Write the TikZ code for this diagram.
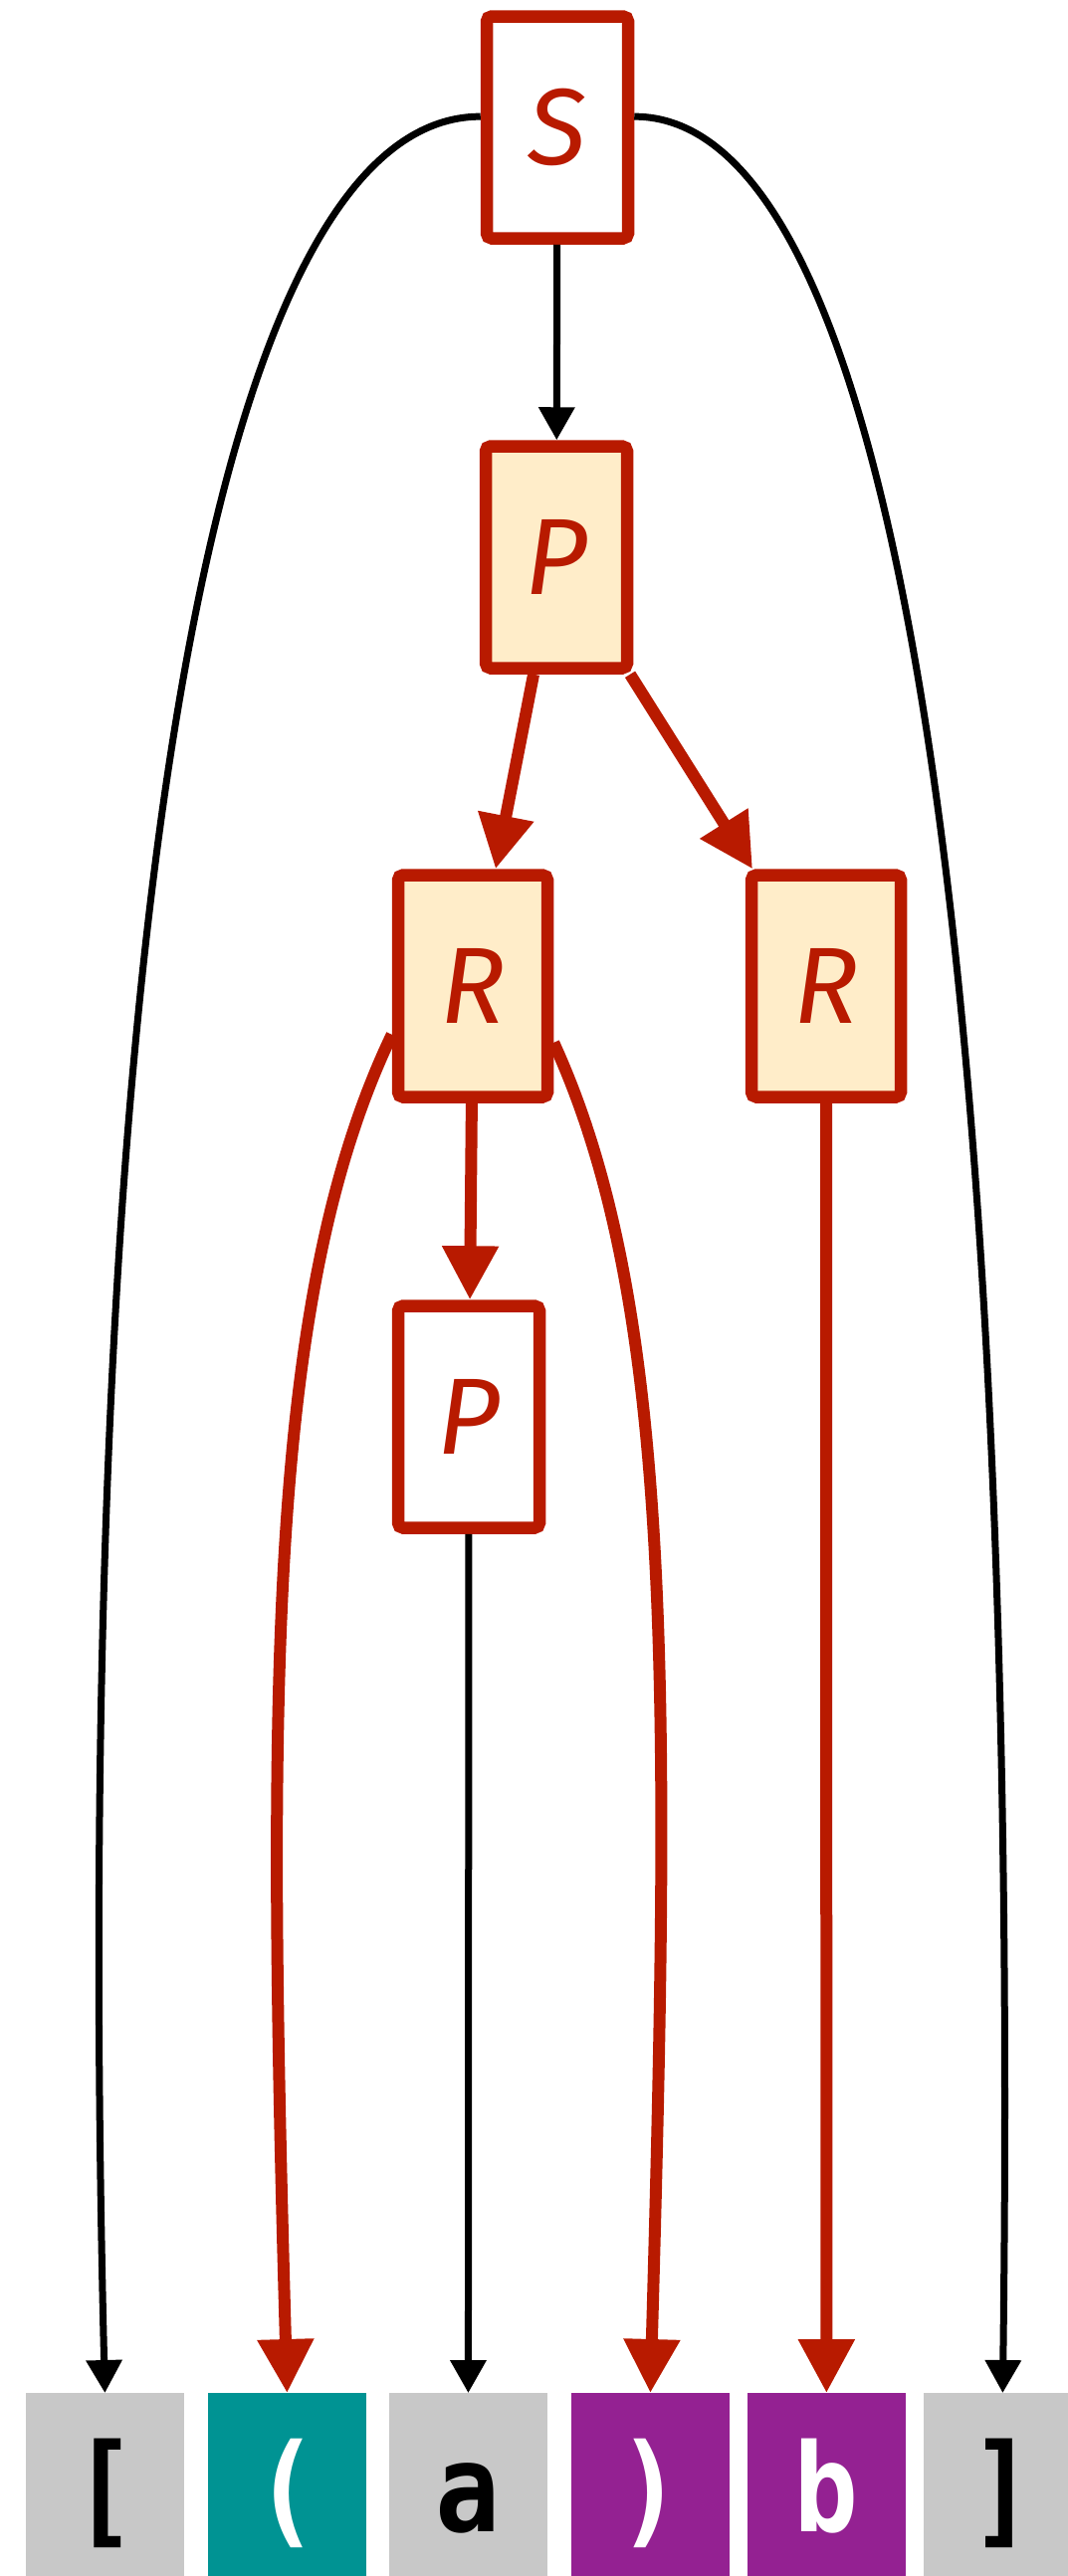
\documentclass[tikz,border=0pt]{standalone}
\usepackage{fontspec}
\usepackage{tikz}
\usetikzlibrary{arrows.meta, positioning}
\newfontfamily\symfont{Fira Sans}
\newfontfamily\tokfont[FakeStretch=0.88]{DejaVu Sans Mono}
\definecolor{treered}{HTML}{B81A00}
\definecolor{cream}{HTML}{FFEDC9}
\definecolor{tokgrey}{HTML}{C8C8C8}
\definecolor{tokteal}{HTML}{009393}
\definecolor{tokpurple}{HTML}{942192}

\begin{document}
\begin{tikzpicture}[
    x=0.1mm, y=-0.1mm,
    node distance=2.4mm,
    symbox/.style={
        rectangle,
        rounded corners=0.5mm,
        draw=treered,
        fill=white,
        line width=1.25mm,
        minimum width=14.2mm,
        minimum height=22.3mm,
        inner sep=0pt,
        text=treered,
        font=\symfont\itshape\fontsize{31}{36}\selectfont
    },
    activebox/.style={symbox, fill=cream},
    widebox/.style={minimum width=15mm},
    tokbox/.style={
        rectangle,
        minimum width=15.9mm,
        minimum height=19.6mm,
        inner sep=0pt,
        outer sep=0pt,
        text height=10mm,
        text depth=1.8mm,
        font=\tokfont\bfseries\fontsize{35}{40}\selectfont
    },
    greytok/.style={tokbox, fill=tokgrey, text=black},
    tealtok/.style={tokbox, fill=tokteal, text=white},
    purpletok/.style={tokbox, fill=tokpurple, text=white},
    blackarrow/.style={line width=0.7mm, -{Triangle[length=3.3mm, width=3.5mm]}},
    redarrow/.style={draw=treered, line width=1.2mm, -{Triangle[length=5.4mm, width=5.4mm]}}
]
\useasboundingbox (0,0) rectangle (1073,2589);

\node[symbox] (s) at (560,128) {S};
\node[activebox] (ptop) at (559,560) {P};
\node[activebox, widebox] (rl) at (475,991) {R};
\node[activebox, widebox] (rr) at (830,991) {R};
\node[symbox] (pl) at (471,1424) {P};

\node[greytok] (tok1) at (105.4,2503) {[};
\node[tealtok, right=of tok1] (tok2) {(};
\node[greytok, right=2.3mm of tok2] (tok3) {a};
\node[purpletok, right=of tok3] (tok4) {)};
\node[purpletok, right=1.8mm of tok4] (tok5) {b};
\node[greytok, right=1.8mm of tok5] (tok6) {]};

\draw[blackarrow] (s) -- (ptop);
\draw[blackarrow] (s.172) .. controls +(-280,0) and +(-35,-1405) .. (tok1.north);
\draw[blackarrow] (s.8) .. controls +(270,0) and +(18,-1405) .. (tok6.north);
\draw[redarrow] (ptop) -- (rl);
\draw[redarrow] (ptop) -- (rr);
\draw[redarrow] (rl) -- (pl);
\draw[redarrow] (rl.211) .. controls +(-125,261) and +(-20,-705) .. (tok2.north);
\draw[redarrow] (rl.325) .. controls +(120,262) and +(20,-705) .. (tok4.north);
\draw[redarrow] (rr) -- (tok5);
\draw[blackarrow] (pl) -- (tok3);

\end{tikzpicture}
\end{document}
